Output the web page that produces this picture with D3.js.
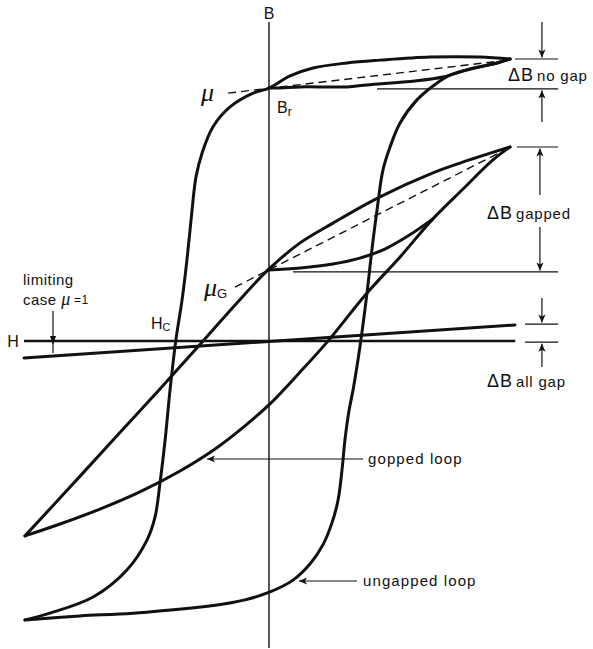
<!DOCTYPE html>
<html>
<head>
<meta charset="utf-8">
<script src="https://cdn.jsdelivr.net/npm/d3@7"></script>
<style>
body { margin: 0; background: #fff; }
text { font-family: "Liberation Sans", Arial, sans-serif; fill: #111; }
.loop { fill: none; stroke: #111; stroke-width: 3; stroke-linejoin: round; stroke-linecap: round; }
.thin { stroke: #111; stroke-width: 1.2; fill: none; }
.dash { stroke: #111; stroke-width: 1.4; stroke-dasharray: 8,5; fill: none; }
.mu { font-family: "Liberation Serif", "DejaVu Serif", serif; font-style: italic; }
</style>
</head>
<body>
<div class="canva"></div>
<script>
// ---- data (H, B in arbitrary units, tips at about +-10) ----
// ungapped loop
const ungappedDown = [[9.84,10.0],[8.61,10.07],[6.57,10.07],[4.53,9.96],[3.18,9.86],[1.80,9.68],[0.86,9.40],
  [0,8.97],[-0.65,8.79],[-1.59,8.30],[-2.29,7.59],[-2.73,6.67],[-2.98,5.82],[-3.14,4.65],[-3.35,2.87],
  [-3.55,1.45],[-3.80,0.04],[-4.04,-1.74],[-4.24,-3.51],[-4.45,-5.04],[-4.65,-6.24],[-4.98,-7.06],
  [-5.80,-8.12],[-7.18,-9.08],[-8.94,-9.65],[-9.96,-9.89]];
const ungappedUp = [[-9.96,-9.89],[-7.71,-9.75],[-5.55,-9.65],[-2.12,-9.36],[-0.98,-9.18],[0.04,-8.90],
  [0.98,-8.48],[1.67,-7.91],[2.20,-7.23],[2.57,-6.45],[2.82,-5.64],[2.98,-4.57],[3.10,-3.51],[3.27,-2.45],
  [3.43,-1.74],[3.71,-0.21],[4.0,1.70],[4.20,3.23],[4.41,4.65],[4.65,6.06],[4.94,6.88],[5.35,7.73],
  [6.04,8.55],[6.86,9.15],[7.39,9.43],[8.41,9.68],[9.31,9.86],[9.84,10.0]];
// minor loop from Br back to the tip
const ungappedMinor = [[0,8.97],[0.45,8.97],[1.27,9.01],[3.18,9.01],[4.0,9.08],[5.96,9.22],[7.10,9.36],
  [8.20,9.65],[9.31,9.86],[9.84,10.0]];

// gapped loop
const gappedDown = [[9.84,6.88],[7.80,6.31],[6.69,5.96],[4.53,5.11],[2.61,4.18],[1.27,3.48],[-0.04,2.52],
  [-1.31,1.35],[-2.69,0],[-4.45,-1.70],[-6.29,-3.44],[-8.12,-5.18],[-9.96,-6.91]];
const gappedUp = [[-9.96,-6.91],[-8.53,-6.49],[-6.90,-5.96],[-5.27,-5.35],[-3.63,-4.61],[-2.20,-3.83],
  [-0.98,-3.01],[0.04,-2.23],[1.27,-1.10],[2.37,-0.04],[4.0,1.70],[5.35,2.98],[6.69,4.33],[7.92,5.39],
  [9.14,6.42],[9.84,6.88]];
const gappedMinor = [[-0.04,2.52],[1.27,2.59],[2.61,2.73],[3.71,2.94],[4.73,3.26],[5.67,3.72],[6.69,4.33]];

// limiting case mu = 1 (all gap)
const allGap = [[-10,-0.60],[10.04,0.57]];

// chords (dashed): permeability lines through Br and the tip
const chordUngapped = [[-1.67,8.79],[9.76,9.96]];
const chordGapped = [[-1.39,1.91],[9.71,6.81]];

// delta B levels: [top, bottom]
const dbNoGap = [10.0, 8.94];
const dbGapped = [6.88, 2.45];
const dbAllGap = [0.60, -0.04];

const hAxisRange = [-10, 10.05];
const bAxisRange = [-10.89, 11.31];

// ---- drawing ----
const svg = d3.select(".canva").append("svg")
    .attr("width", 593)
    .attr("height", 649);

const x = d3.scaleLinear().domain([-10, 10]).range([24, 514]);
const y = d3.scaleLinear().domain([-10, 10]).range([623, 59]);

const defs = svg.append("defs");
defs.append("marker")
    .attr("id", "head")
    .attr("viewBox", "0 0 10 10")
    .attr("refX", 10).attr("refY", 5)
    .attr("markerUnits", "userSpaceOnUse")
    .attr("markerWidth", 10).attr("markerHeight", 8)
    .attr("orient", "auto-start-reverse")
    .append("path")
    .attr("d", "M0,0.5 L10,5 L0,9.5 L2.5,5 z")
    .attr("fill", "#111");

const curve = d3.line()
    .x(d => x(d[0]))
    .y(d => y(d[1]))
    .curve(d3.curveCatmullRom.alpha(0.5));
const straight = d3.line()
    .x(d => x(d[0]))
    .y(d => y(d[1]));

// axes
svg.append("line")
    .attr("x1", x(0)).attr("x2", x(0))
    .attr("y1", y(bAxisRange[0])).attr("y2", y(bAxisRange[1]))
    .attr("stroke", "#111").attr("stroke-width", 1.4);
svg.append("line")
    .attr("x1", x(hAxisRange[0])).attr("x2", x(hAxisRange[1]))
    .attr("y1", y(0)).attr("y2", y(0))
    .attr("stroke", "#111").attr("stroke-width", 2.6);

svg.append("text").attr("x", x(0)).attr("y", 19).attr("text-anchor", "middle")
    .style("font-size", "16px").text("B");
svg.append("text").attr("x", 13).attr("y", y(0) + 5.5).attr("text-anchor", "middle")
    .style("font-size", "16px").text("H");

// limiting line
svg.append("path").datum(allGap).attr("class", "loop").attr("stroke-width", 2.6).attr("d", straight);

// loops
[ungappedDown, ungappedUp, ungappedMinor, gappedDown, gappedUp, gappedMinor].forEach(p => {
  svg.append("path").datum(p).attr("class", "loop").attr("d", curve);
});

// dashed chords
svg.append("path").datum(chordUngapped).attr("class", "dash").attr("d", straight);
svg.append("path").datum(chordGapped).attr("class", "dash").attr("d", straight);

// delta B reference lines
const xr = x(11.8);
function refLine(b, h0) {
  svg.append("line").attr("class", "thin")
     .attr("x1", x(h0)).attr("x2", xr)
     .attr("y1", y(b)).attr("y2", y(b));
}
refLine(dbNoGap[0], 10.04);
refLine(dbNoGap[1], 4.41);
refLine(dbGapped[0], 10.12);
refLine(dbGapped[1], 0.98);
refLine(dbAllGap[0], 10.45);
refLine(dbAllGap[1], 10.45);

function arrow(x1, y1, x2, y2) {
  svg.append("line").attr("class", "thin")
     .attr("x1", x1).attr("y1", y1).attr("x2", x2).attr("y2", y2)
     .attr("marker-end", "url(#head)");
}
const xa = x(11.14);
// no gap
arrow(xa, 22, xa, y(dbNoGap[0]) - 1.5);
arrow(xa, 122, xa, y(dbNoGap[1]) + 1.5);
// gapped
arrow(xa - 2, 195, xa - 2, y(dbGapped[0]) + 1.5);
arrow(xa - 2, 227, xa - 2, y(dbGapped[1]) - 1.5);
// all gap
arrow(xa, 298, xa, y(dbAllGap[0]) - 1.5);
arrow(xa, 367, xa, y(dbAllGap[1]) + 1.5);

function deltaLabel(px, py, rest) {
  const t = svg.append("text").attr("x", px).attr("y", py);
  t.append("tspan").style("font-size", "18px").text("\u0394");
  t.append("tspan").style("font-size", "18px").attr("dx", 1).text("B");
  t.append("tspan").style("font-size", "15px").attr("dx", 4)
   .style("letter-spacing", "0.8px").text(rest);
}
deltaLabel(508, 81, "no gap");
deltaLabel(487, 219, "gapped");
deltaLabel(487, 387, "all gap");

// mu labels
svg.append("text").attr("class", "mu").attr("x", 201).attr("y", 101)
    .style("font-size", "26px").text("\u03bc");
svg.append("text").attr("class", "mu").attr("x", 204).attr("y", 296)
    .style("font-size", "26px").text("\u03bc")
    .append("tspan").style("font-style", "normal")
    .style("font-family", "Liberation Sans, Arial, sans-serif")
    .style("font-size", "13px").attr("dy", 2).text("G");

// Br
const br = svg.append("text").attr("x", 277).attr("y", 113).style("font-size", "16px").text("B");
br.append("tspan").style("font-size", "12px").attr("dy", 3).text("r");
// Hc
const hc = svg.append("text").attr("x", 151).attr("y", 329).style("font-size", "16px").text("H");
hc.append("tspan").style("font-size", "11px").attr("dy", 2).text("C");

// limiting case
svg.append("text").attr("x", 23).attr("y", 285).style("font-size", "15px")
    .style("letter-spacing", "0.5px").text("limiting");
const lc = svg.append("text").attr("x", 23).attr("y", 305).style("font-size", "15px")
    .style("letter-spacing", "0.5px").text("case ");
lc.append("tspan").attr("class", "mu").style("font-size", "18px").text("\u03bc");
lc.append("tspan").style("font-size", "12px").attr("dx", 3).attr("dy", -1).text("=1");
svg.append("line").attr("class", "thin").attr("x1", 53).attr("x2", 53).attr("y1", 311).attr("y2", 353);
svg.append("path").attr("d", "M53,345 L50,336 L56,336 z").attr("fill", "#111");

// loop captions
svg.append("line").attr("class", "thin").attr("x1", 363).attr("y1", 459).attr("x2", 207).attr("y2", 459)
    .attr("marker-end", "url(#head)");
svg.append("text").attr("x", 368).attr("y", 464).style("font-size", "15px")
    .style("letter-spacing", "1.1px").text("gopped loop");
svg.append("line").attr("class", "thin").attr("x1", 357).attr("y1", 581).attr("x2", 299).attr("y2", 581)
    .attr("marker-end", "url(#head)");
svg.append("text").attr("x", 363).attr("y", 586).style("font-size", "15px")
    .style("letter-spacing", "1.1px").text("ungapped loop");
</script>
</body>
</html>
